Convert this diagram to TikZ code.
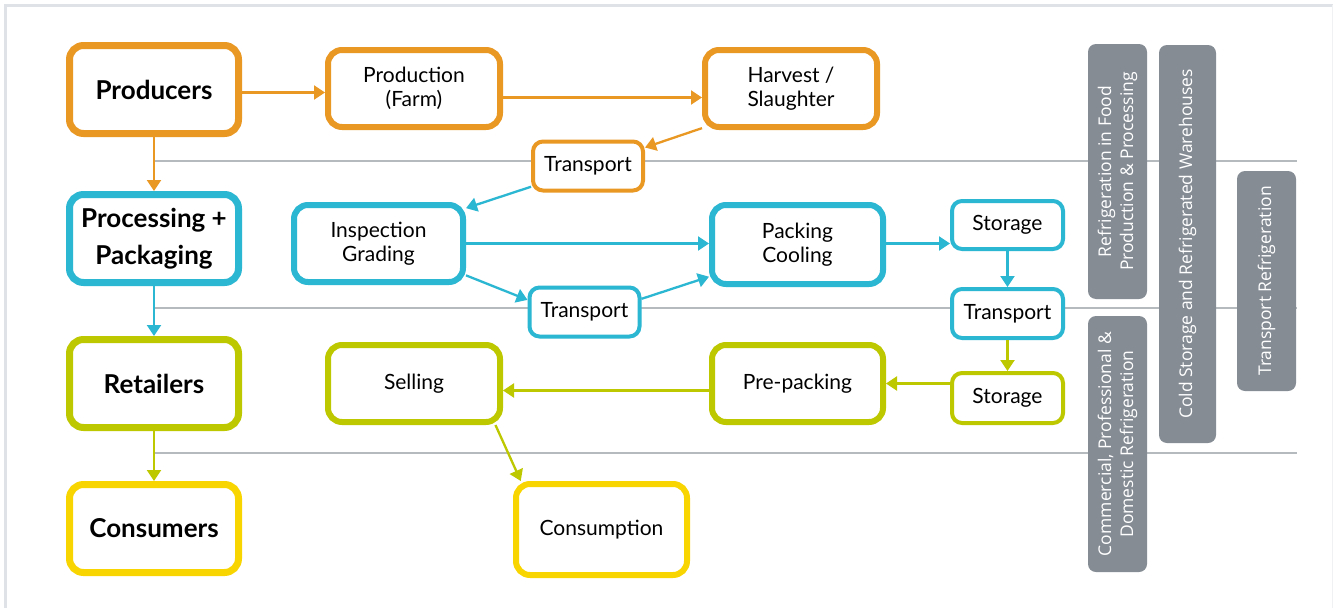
\documentclass[tikz,border=0pt]{standalone}
\usepackage{fontspec}
\setmainfont{Lato}
\newfontfamily\greyfont{Open Sans}
\usetikzlibrary{arrows.meta}
\definecolor{cOrange}{HTML}{EA9824}
\definecolor{cCyan}{HTML}{2BB6D2}
\definecolor{cGreen}{HTML}{BDC800}
\definecolor{cYellow}{HTML}{F8D500}
\definecolor{cGrey}{HTML}{858C94}
\definecolor{cLine}{HTML}{B5BABF}
\definecolor{cFrame}{HTML}{DFE3E7}
\begin{document}
\begin{tikzpicture}[x=1pt,y=-1pt,
  box/.style={draw, fill=white, rounded corners=14pt, align=center, inner sep=0pt, text=black},
  bigbox/.style={box, line width=7pt, minimum width=169pt, minimum height=88pt, font=\bfseries\fontsize{26}{37}\selectfont},
  midbox/.style={box, line width=6pt, minimum width=172pt, minimum height=77pt, font=\fontsize{21}{24}\selectfont},
  smallbox/.style={box, line width=4pt, rounded corners=10pt, minimum width=110pt, minimum height=49pt, font=\fontsize{21}{24}\selectfont},
  greybox/.style={fill=cGrey, rounded corners=8pt, rotate=90, text=white, align=center, font=\greyfont\fontsize{17.5}{22}\selectfont, inner sep=0pt},
  arr/.style={line width=2.3pt, -{Triangle[length=11pt,width=14pt]}},
  sep/.style={draw=cLine, line width=1.5pt}
]
\useasboundingbox (0,0) rectangle (1333,608);
\fill[white] (0,0) rectangle (1333,608);
\draw[cFrame, line width=3pt] (5,608) -- (5,5) -- (1333,5);
\draw[cFrame!50, line width=1pt] (1332,5) -- (1332,608);

% separators
\draw[sep] (155,161) -- (1297,161);
\draw[sep] (155,308) -- (1297,308);
\draw[sep] (155,453) -- (1297,453);

% grey category boxes
\node[greybox, minimum width=255pt, minimum height=59pt] (gA) at (1117.5,171.5) {Refrigeration in Food\\Production \& Processing};
\node[greybox, minimum width=398pt, minimum height=57pt] (gB) at (1187.5,244) {Cold Storage and Refrigerated Warehouses};
\node[greybox, minimum width=220pt, minimum height=59pt] (gC) at (1266.5,281) {Transport Refrigeration};
\node[greybox, minimum width=256pt, minimum height=59pt] (gD) at (1117.5,444) {Commercial, Professional \&\\Domestic Refrigeration};

% main column
\node[bigbox, draw=cOrange] (prod) at (154,89.5) {Producers};
\node[bigbox, draw=cCyan] (proc) at (154,238.5) {Processing +\\Packaging};
\node[bigbox, draw=cGreen] (ret) at (154,383.5) {Retailers};
\node[bigbox, draw=cYellow] (cons) at (154,528.5) {Consumers};

% process boxes
\node[midbox, draw=cOrange] (farm) at (414,88.5) {Production\\(Farm)};
\node[midbox, draw=cOrange] (harv) at (791,88.5) {Harvest /\\Slaughter};
\node[smallbox, draw=cOrange] (tr1) at (588,166) {Transport};
\node[midbox, draw=cCyan, minimum width=169pt] (insp) at (378.5,243.5) {Inspection\\Grading};
\node[midbox, draw=cCyan, minimum width=171pt, minimum height=79pt] (pack) at (797.5,244.5) {Packing\\Cooling};
\node[smallbox, draw=cCyan, minimum width=111pt, minimum height=48pt] (st1) at (1007.5,225) {Storage};
\node[smallbox, draw=cCyan] (tr2) at (584.5,312) {Transport};
\node[smallbox, draw=cCyan, minimum width=111pt] (tr3) at (1007.5,313.5) {Transport};
\node[smallbox, draw=cGreen, minimum width=111pt, minimum height=50pt] (st2) at (1007.5,398) {Storage};
\node[midbox, draw=cGreen, minimum width=171pt] (prep) at (797.5,383.5) {Pre-packing};
\node[midbox, draw=cGreen] (sell) at (414,383.5) {Selling};
\node[midbox, draw=cYellow, minimum width=171pt, minimum height=91pt] (cons2) at (601.5,529.5) {Consumption};

% arrows
\draw[arr, cOrange] ([yshift=-3pt]prod.east) -- ([yshift=-3pt]prod.east -| farm.west);
\draw[arr, cOrange] ([yshift=-9pt]farm.east) -- ([yshift=-9pt]harv.west);
\draw[arr, cOrange] (harv.-156) -- (tr1.18);
\draw[arr, cOrange] (prod.south) -- (proc.north);
\draw[arr, cCyan] (tr1.-160) -- (insp.22);
\draw[arr, cCyan] (insp.east) -- (insp.east -| pack.west);
\draw[arr, cCyan] (insp.-20) -- (tr2.168);
\draw[arr, cCyan] (tr2.13) -- (pack.-160);
\draw[arr, cCyan] ([yshift=1pt]pack.east) -- ([yshift=1pt]pack.east -| st1.west);
\draw[arr, cCyan] (st1.south) -- (tr3.north);
\draw[arr, cCyan] (proc.south) -- (ret.north);
\draw[arr, cGreen] (tr3.south) -- (st2.north);
\draw[arr, cGreen] (prep.east -| st2.west) -- (prep.east);
\draw[arr, cGreen] ([yshift=-7pt]prep.west) -- ([yshift=-7pt]sell.east);
\draw[arr, cGreen] (sell.-27) -- (cons2.149);
\draw[arr, cGreen] (ret.south) -- (cons.north);
\end{tikzpicture}
\end{document}
